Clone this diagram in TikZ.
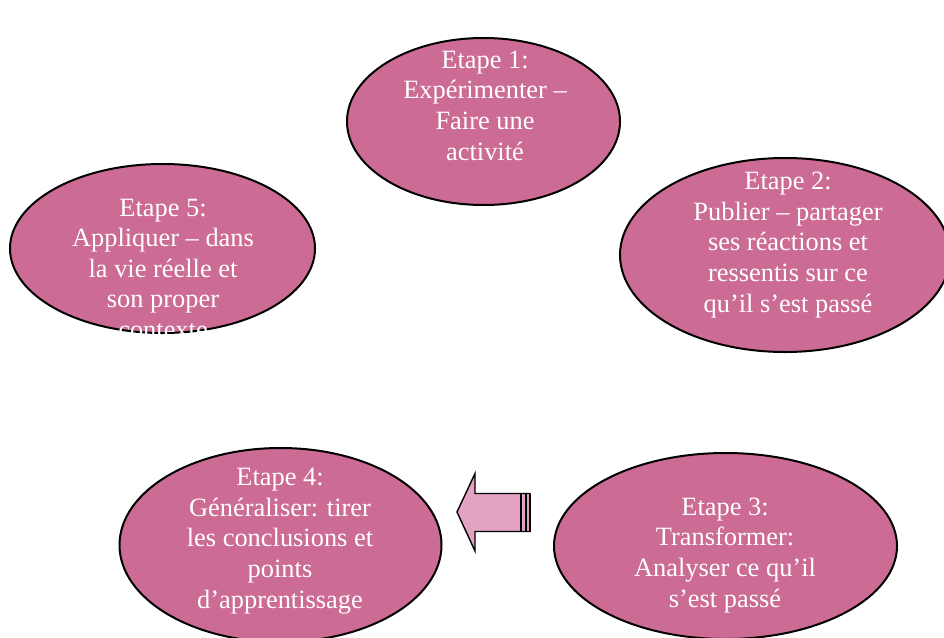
\documentclass[tikz,border=0pt]{standalone}
\usepackage{fontspec}
\setmainfont{Liberation Serif}
\usetikzlibrary{shapes.geometric}
\definecolor{etapefill}{RGB}{204,107,148}
\definecolor{flechefill}{RGB}{226,163,195}
\newcommand{\etapefont}{\fontsize{26.4}{30.6}\selectfont}

\begin{document}
\begin{tikzpicture}[x=1pt, y=-1pt,
		etape/.style={ellipse, draw=black, line width=2pt, fill=etapefill, inner sep=0pt},
		texte/.style={text=white, align=center, font=\etapefont, inner sep=0pt, anchor=base},
	]
		\useasboundingbox (0,0) rectangle (944,637);
		% les ellipses
		\node[etape, minimum width=273, minimum height=167] (e1) at (483.5,121.5) {};
		\node[etape, minimum width=330, minimum height=194] (e2) at (785,255) {};
		\node[etape, minimum width=343, minimum height=186] (e3) at (725.5,546) {};
		\node[etape, minimum width=322, minimum height=194] (e4) at (280.5,545) {};
		\node[etape, minimum width=305, minimum height=169] (e5) at (162.5,248.5) {};
		% textes (ancre sur la derniere ligne)
		\node[texte] (t1) at (485,160) {Etape 1:\\ Expérimenter --\\ Faire une\\ activité};
		\node[texte] (t2) at (788,312) {Etape 2:\\ Publier -- partager\\ ses réactions et\\ ressentis sur ce\\ qu’il s’est passé};
		\node[texte] (t3) at (725,607) {Etape 3:\\ Transformer:\\ Analyser ce qu’il\\ s’est passé};
		\node[texte] (t4) at (280,608) {Etape 4:\\ Généraliser: tirer\\ les conclusions et\\ points\\ d’apprentissage};
		\begin{scope}
			\clip (0,0) rectangle (944,333.5);
			\node[texte] (t5) at (163,338.5) {Etape 5:\\ Appliquer -- dans\\ la vie réelle et\\ son proper\\ contexte};
		\end{scope}
		% la fleche
		\coordinate (pointe) at (457,512);
		\draw[line width=1.4pt, fill=flechefill, line join=miter]
			(pointe) -- (475,473.5) -- (475,493.5) -- (530,493.5) -- (530,531.5)
			-- (475,531.5) -- (475,551) -- cycle;
		\foreach \xb in {521,526,530}
			\draw[line width=2.2pt] (\xb,493.5) -- (\xb,531.5);
	\end{tikzpicture}
\end{document}
